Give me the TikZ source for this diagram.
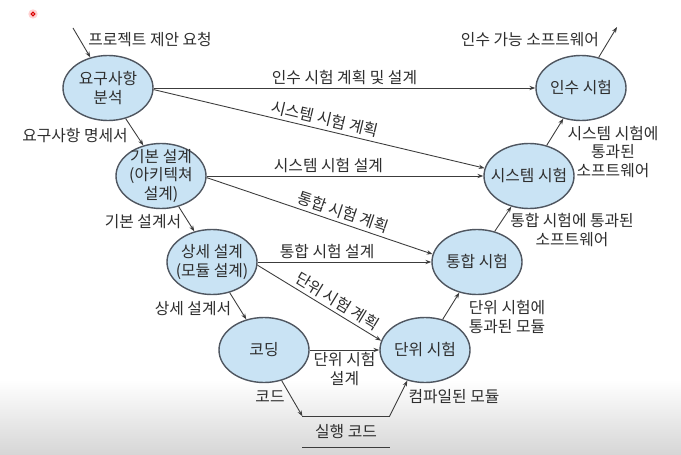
\documentclass[tikz,border=0pt]{standalone}
\usepackage{fontspec}
\setmainfont{Noto Sans CJK KR}
\usetikzlibrary{shapes.geometric, arrows.meta}

\definecolor{phaseblue}{HTML}{C9E3F4}
\definecolor{rimgray}{HTML}{4F5660}
\definecolor{linegray}{HTML}{3C3C3C}
\definecolor{textgray}{HTML}{2E2E2E}

\tikzset{
    phase/.style={ellipse, draw=rimgray, line width=1.2pt, fill=phaseblue,
        minimum width=2.7cm, minimum height=1.95cm, inner sep=-10pt,
        align=center, text=textgray},
    flow/.style={-{Stealth[length=5pt, width=3.6pt]}, draw=linegray, line width=0.75pt},
    note/.style={align=center, text=textgray, inner sep=1pt}
}

\begin{document}
\begin{tikzpicture}[x=0.03cm, y=-0.03cm, font=\fontsize{13.5}{16}\selectfont]
    \useasboundingbox (0,0) rectangle (681,454);

    % ==========================================
    % Background (screen capture shading)
    % ==========================================
    \fill[white] (0,0) rectangle (681,454);
    \shade[top color=white, bottom color=black!16] (0,380) rectangle (681,454);
    \fill[red!18] (33,14) circle (4pt);
    \draw[red!85!black, line width=0.8pt] (33,14) circle (1.6pt);

    % ==========================================
    % Left side: development phases
    % ==========================================
    \node[phase] (req) at (108,88) {요구사항\\분석};
    \node[phase] (arch) at (161,176) {기본 설계\\(아키텍쳐\\설계)};
    \node[phase] (design) at (212,262) {상세 설계\\(모듈 설계)};
    \node[phase] (coding) at (264,350) {코딩};

    % ==========================================
    % Right side: test phases
    % ==========================================
    \node[phase] (unit) at (425,350) {단위 시험};
    \node[phase] (integ) at (477,262) {통합 시험};
    \node[phase] (system) at (529,176) {시스템 시험};
    \node[phase] (accept) at (581,88) {인수 시험};

    % Executable code between the two lines
    \node[minimum width=2.6cm, minimum height=0.93cm, inner sep=0, text=textgray] (exec) at (346,432) {실행 코드};
    \draw[linegray, line width=1.2pt] (exec.north west) -- (exec.north east);
    \draw[linegray, line width=1.2pt] (exec.south west) -- (exec.south east);

    % Free ends of the in/out arrows
    \coordinate (start) at (73,28);
    \coordinate (finish) at (617,27);

    % ==========================================
    % Down the left side
    % ==========================================
    \draw[flow] (start) -- (req.120);
    \draw[flow] (req.-60) -- (arch.120);
    \draw[flow] (arch.-60) -- (design.120);
    \draw[flow] (design.-60) -- (coding.120);
    \draw[flow] (coding.-60) -- (exec.north west);

    \node[note] (proposal) at (150,40) {프로젝트 제안 요청};
    \node[note] (spec) at (75,136) {요구사항 명세서};
    \node[note] (archdoc) at (143,222) {기본 설계서};
    \node[note] (designdoc) at (193,309) {상세 설계서};
    \node[note] (code) at (270,397) {코드};

    % ==========================================
    % Up the right side
    % ==========================================
    \draw[flow] (exec.north east) -- (unit.-120);
    \draw[flow] (unit.60) -- (integ.-120);
    \draw[flow] (integ.60) -- (system.-120);
    \draw[flow] (system.60) -- (accept.-120);
    \draw[flow] (accept.60) -- (finish);

    \node[note] (compiled) at (454,397) {컴파일된 모듈};
    \node[note] (unitpass) at (507,317) {단위 시험에\\통과된 모듈};
    \node[note] (integpass) at (572,230) {통합 시험에 통과된\\소프트웨어};
    \node[note] (syspass) at (613,152) {시스템 시험에\\통과된\\소프트웨어};
    \node[note] (release) at (530,40) {인수 가능 소프트웨어};

    % ==========================================
    % Test plans and designs across the V
    % ==========================================
    \draw[flow] (req.east) -- (accept.west)
        node[note, midway, above=1pt] (accplan) {인수 시험 계획 및 설계};
    \draw[flow] (req.-2) -- (system.170)
        node[note, pos=0.51, above=2pt, sloped] (sysplan) {시스템 시험 계획};
    \draw[flow] (arch.east) -- (system.west)
        node[note, pos=0.44, above=1pt] (sysdesign) {시스템 시험 설계};
    \draw[flow] (arch.-2) -- (integ.170)
        node[note, pos=0.59, above=2pt, sloped] (integplan) {통합 시험 계획};
    \draw[flow] (design.east) -- (integ.west)
        node[note, pos=0.4, above=1pt] (integdesign) {통합 시험 설계};
    \draw[flow] (design.-4) -- (unit.168)
        node[note, pos=0.6, above=2pt, sloped] (unitplan) {단위 시험 계획};
    \draw[flow] (coding.east) -- (unit.west)
        node[note, midway, below=1pt] (unitdesign) {단위 시험\\설계};
\end{tikzpicture}
\end{document}
